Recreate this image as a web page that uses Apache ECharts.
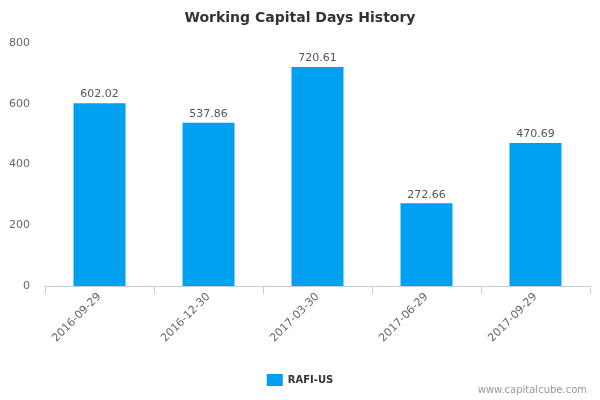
<!DOCTYPE html>
<html>
<head>
	<meta charset="utf-8">
	<title>Working Capital Days History</title>
	<script src="https://cdn.jsdelivr.net/npm/echarts@6/dist/echarts.min.js"></script>
	<style type="text/css">
		html, body { margin: 0; padding: 0; background-color: #fff; }
		#chartBox { width: 600px; height: 400px; }
	</style>
</head>
<body>
<div id="chartBox"></div>
<script>
	// 数据
	var categories = ['2016-09-29', '2016-12-30', '2017-03-30', '2017-06-29', '2017-09-29'];
	var values = [602.02, 537.86, 720.61, 272.66, 470.69];
	var yTicks = [0, 200, 400, 600, 800];
	var seriesName = 'RAFI-US';

	var fontFamily = '"DejaVu Sans", Verdana, sans-serif';
	var chart = echarts.init(document.getElementById('chartBox'));
	var options = {
		animation: false,
		textStyle: { fontFamily: fontFamily },
		title: [{
			text: 'Working Capital Days History',
			left: 'center',
			top: 6,
			textStyle: { fontSize: 14, fontWeight: 'bold', color: '#333', fontFamily: fontFamily }
		}, {
			text: 'www.capitalcube.com',
			right: 8,
			bottom: 0,
			textStyle: { fontSize: 10, fontWeight: 'normal', color: '#999', fontFamily: fontFamily }
		}],
		legend: {
			bottom: 9,
			left: 'center',
			itemWidth: 16,
			itemHeight: 12,
			itemGap: 5,
			icon: 'rect',
			data: [seriesName],
			textStyle: { fontSize: 10, fontWeight: 'bold', color: '#333', fontFamily: fontFamily }
		},
		grid: { left: 45, right: 10, top: 43, bottom: 114 },
		xAxis: [{
			type: 'category',
			data: categories,
			axisLine: { lineStyle: { color: '#c0d0e0' } },
			axisTick: { show: true, length: 8, alignWithLabel: false, lineStyle: { color: '#c0d0e0' } },
			axisLabel: { rotate: 45, color: '#666', fontSize: 11, margin: 9, fontFamily: fontFamily }
		}],
		yAxis: [{
			type: 'value',
			min: yTicks[0],
			max: yTicks[yTicks.length - 1],
			interval: 200,
			splitLine: { show: false },
			axisLine: { show: false },
			axisTick: { show: false },
			axisLabel: { color: '#666', fontSize: 11, margin: 15, fontFamily: fontFamily }
		}],
		series: [{
			name: seriesName,
			type: 'bar',
			barWidth: 52,
			itemStyle: { color: '#00a0f0' },
			label: {
				show: true,
				position: 'top',
				distance: 3,
				color: '#555',
				fontSize: 11,
				fontFamily: fontFamily,
				formatter: function (p) { return p.value.toFixed(2); }
			},
			data: values
		}]
	};
	chart.setOption(options);
</script>
</body>
</html>
